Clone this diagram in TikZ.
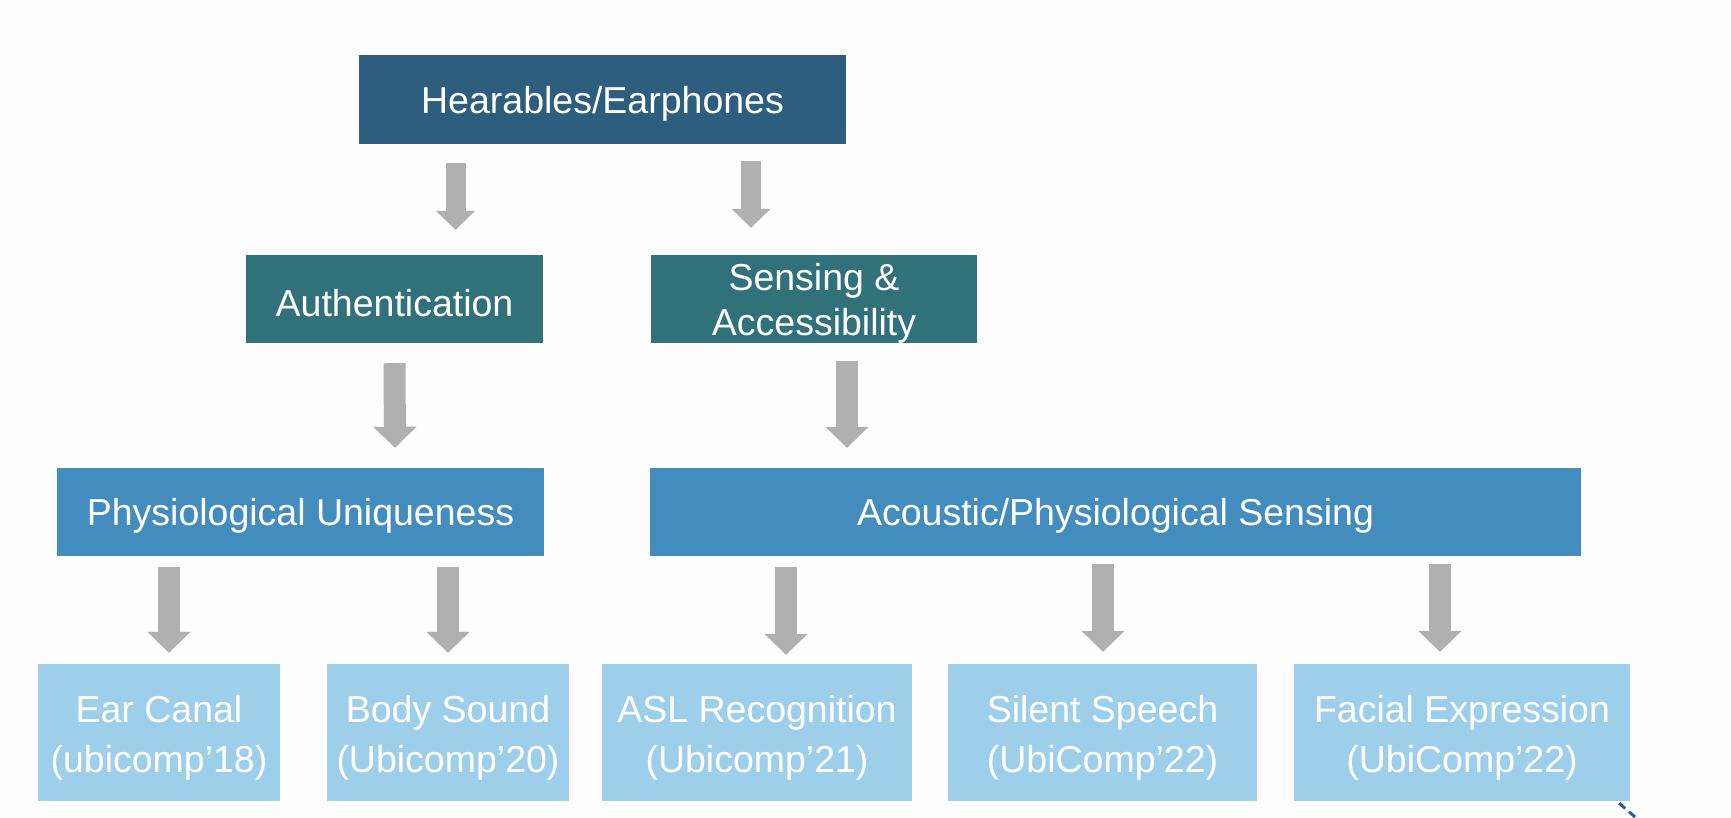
\documentclass[tikz,border=0pt]{standalone}
\usepackage{fontspec}
\setmainfont{Liberation Sans}
\usetikzlibrary{arrows.meta}
\definecolor{hearblue}{HTML}{2E5E7E}
\definecolor{areateal}{HTML}{31717A}
\definecolor{topicblue}{HTML}{428DBE}
\definecolor{paperblue}{HTML}{9DCFEA}
\definecolor{arrowgray}{HTML}{B0B0B0}
\definecolor{pagewhite}{HTML}{FDFDFD}
\definecolor{penblue}{HTML}{2F5C9E}
\newcommand{\capstrut}[1][0.93em]{\rule{0pt}{#1}}
\begin{document}
\begin{tikzpicture}[
    x=1pt, y=-1pt,
    box/.style={minimum height=88pt, inner sep=0pt, align=center, text=white,
      font=\fontsize{37.5}{45}\selectfont},
    paper/.style={box, fill=paperblue, minimum height=137pt, font=\fontsize{37.5}{50}\selectfont},
    bigarrow/.style={draw=arrowgray, line width=22pt, -{Triangle[width=42pt,length=21pt]}},
    smallarrow/.style={draw=arrowgray, line width=20pt, -{Triangle[width=38pt,length=19pt]}}
  ]
    \fill[pagewhite] (0,0) rectangle (1731,818);
    \useasboundingbox (0,0) rectangle (1731,818);

    % levels
    \node [box, fill=hearblue, minimum width=487pt, minimum height=89pt] (hear) at (602.5,99.5) {\capstrut Hearables/Earphones};
    \node [box, fill=areateal, minimum width=297pt] (auth) at (394.5,299) {\capstrut Authentication};
    \node [box, fill=areateal, minimum width=326pt] (sens) at (814,299) {\capstrut Sensing \&\\Accessibility};
    \node [box, fill=topicblue, minimum width=487pt] (phys) at (300.5,512) {\capstrut Physiological Uniqueness};
    \node [box, fill=topicblue, minimum width=931pt] (acou) at (1115.5,512) {\capstrut Acoustic/Physiological Sensing};

    % papers
    \node [paper, minimum width=242pt] (ear) at (159,732.5) {\capstrut[1.02em]Ear Canal\\(ubicomp’18)};
    \node [paper, minimum width=242pt] (body) at (448,732.5) {\capstrut[1.02em]Body Sound\\(Ubicomp’20)};
    \node [paper, minimum width=310pt] (asl) at (757,732.5) {\capstrut[1.02em]ASL Recognition\\(Ubicomp’21)};
    \node [paper, minimum width=309pt] (sil) at (1102.5,732.5) {\capstrut[1.02em]Silent Speech\\(UbiComp’22)};
    \node [paper, minimum width=336pt] (fac) at (1462,732.5) {\capstrut[1.02em]Facial Expression\\(UbiComp’22)};

    % arrows
    \draw [smallarrow] ([xshift=-147pt,yshift=-19pt]hear.south) -- ([xshift=61pt,yshift=25pt]auth.north);
    \draw [smallarrow] ([xshift=148.5pt,yshift=-17pt]hear.south) -- ([xshift=-63pt,yshift=27pt]sens.north);
    \draw [bigarrow] ([yshift=-20pt]auth.south) -- ([xshift=94.5pt,yshift=20pt]phys.north);
    \draw [bigarrow] ([xshift=33pt,yshift=-18pt]sens.south) -- ([xshift=-268.5pt,yshift=20pt]acou.north);
    \draw [bigarrow] ([xshift=-131.5pt,yshift=-11pt]phys.south) -- ([xshift=10pt,yshift=11pt]ear.north);
    \draw [bigarrow] ([xshift=147.5pt,yshift=-11pt]phys.south) -- ([yshift=11pt]body.north);
    \draw [bigarrow] ([xshift=-329.5pt,yshift=-11pt]acou.south) -- ([xshift=29pt,yshift=9pt]asl.north);
    \draw [bigarrow] ([xshift=-12.5pt,yshift=-8pt]acou.south) -- ([xshift=0.5pt,yshift=12pt]sil.north);
    \draw [bigarrow] ([xshift=324.5pt,yshift=-8pt]acou.south) -- ([xshift=-22pt,yshift=12pt]fac.north);

    % pen stroke in the corner
    \draw [penblue, line width=3pt, dash pattern=on 8pt off 5pt] ([xshift=-11pt,yshift=-2pt]fac.south east) -- ++(24,21);
    \draw [penblue, line width=3pt] (1700,828) arc (180:20:12);
  \end{tikzpicture}
\end{document}
